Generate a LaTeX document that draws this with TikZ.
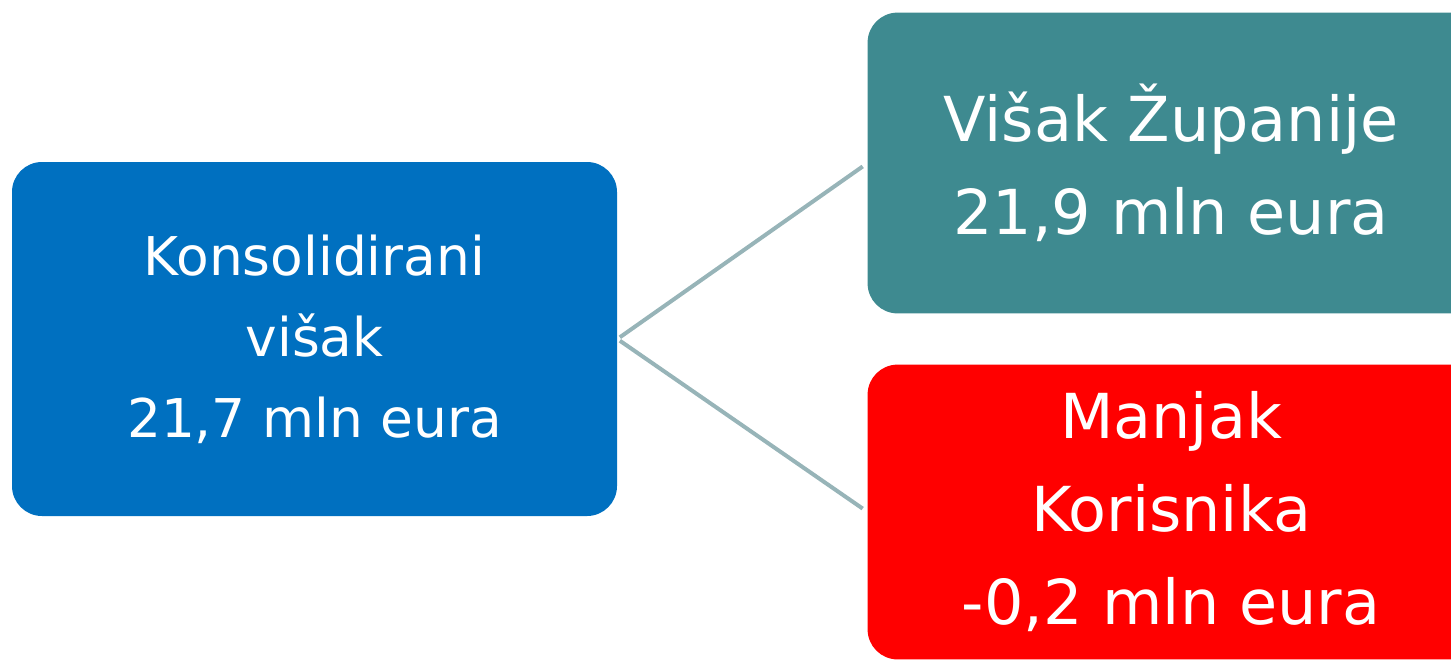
\documentclass[tikz,border=0pt]{standalone}
\usepackage{fontspec}
\setmainfont{DejaVu Sans}
\usepackage{xcolor}
\usetikzlibrary{calc,backgrounds}
\definecolor{konsblue}{HTML}{0070C0}
\definecolor{zupteal}{HTML}{3E8A90}
\definecolor{korred}{HTML}{FF0000}
\definecolor{linkgray}{HTML}{97B4B8}

\begin{document}
\begin{tikzpicture}[x=.5pt,y=-.5pt,
  box/.style={inner sep=0pt, align=center, text=white},
  leftbox/.style={box, fill=konsblue, rounded corners=15pt, minimum width=302.5pt, minimum height=177pt,
    font=\fontsize{26.7}{40.5}\selectfont},
  rightbox/.style={box, minimum width=303pt,
    font=\fontsize{31}{46.5}\selectfont},
  link/.style={draw=linkgray, line width=2pt}]
\useasboundingbox (0,0) rectangle (1451,660);
\clip (0,0) rectangle (1451,660);
\node[leftbox] (kons) at (314.5,339) {Konsolidirani\\višak\\21,7 mln eura};
\node[rightbox, minimum height=150pt] (zup) at (1171,163) {Višak Županije\\21,9 mln eura};
\node[rightbox, minimum height=147pt] (kor) at (1171,512) {Manjak\\Korisnika\\-0,2 mln eura};
% right boxes run past the page edge
\begin{scope}[on background layer]
\fill[zupteal, rounded corners=15pt] (zup.north west) rectangle ([xshift=30pt]zup.south east);
\fill[korred, rounded corners=15pt] (kor.north west) rectangle ([xshift=30pt]kor.south east);
\end{scope}
\draw[link, shorten <=1.5pt, shorten >=3pt] (kons.east) -- (zup.west);
\draw[link, shorten <=1.5pt, shorten >=3pt] (kons.east) -- (kor.west);
\end{tikzpicture}
\end{document}
